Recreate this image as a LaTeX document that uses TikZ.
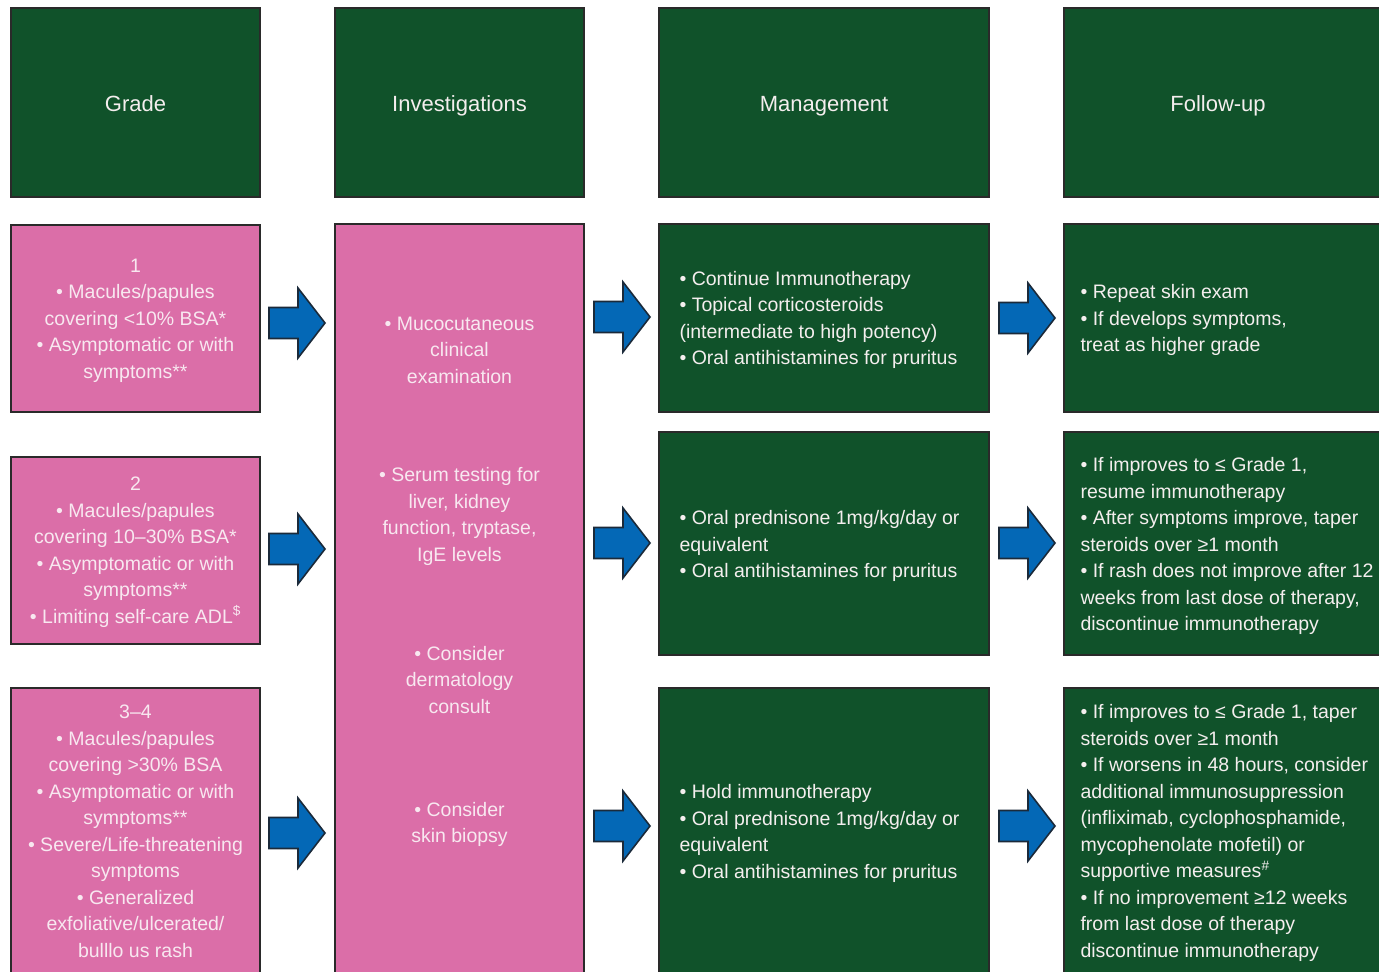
\documentclass[tikz,border=0pt]{standalone}
\usepackage{fontspec}
\setmainfont{Liberation Sans}
\definecolor{hdgreen}{HTML}{10522A}
\definecolor{gpink}{HTML}{DB6EA8}
\definecolor{ablue}{HTML}{0468B6}
\definecolor{aedge}{HTML}{1B2A3A}
\definecolor{bedge}{HTML}{2A2A2A}
\definecolor{txt}{HTML}{F4EEEE}
\definecolor{ptxt}{HTML}{F8E8F0}
\tikzset{
  box/.style={draw=bedge, line width=2.6bp, rectangle, inner sep=0pt},
  greenbox/.style={box, fill=hdgreen},
  pinkbox/.style={box, fill=gpink},
  hdrtext/.style={text=txt, font=\fontsize{22bp}{27bp}\selectfont, text height=17bp, text depth=0bp, inner sep=0pt},
  body/.style={font=\fontsize{19.5bp}{26.5bp}\selectfont},
  ctext/.style={body, align=center, text=ptxt},
  ltext/.style={body, align=left, text=txt, anchor=west},
  barrow/.pic={\draw[fill=ablue, draw=aedge, line width=1.6bp, line join=miter]
     (0,-15.5) -- (29,-15.5) -- (29,-35) -- (56,0) -- (29,35) -- (29,15.5) -- (0,15.5) -- cycle;}
}
\begin{document}
\begin{tikzpicture}[x=1bp,y=-1bp]
\useasboundingbox (0,0) rectangle (1379,971);
\fill[white] (0,0) rectangle (1379,971);
\clip (0,0) rectangle (1379,971);
% headers
\node[greenbox, minimum width=249bp, minimum height=189bp] (hgrade) at (135.5,102.5) {};
\node[greenbox, minimum width=249bp, minimum height=189bp] (hinv) at (459.5,102.5) {};
\node[greenbox, minimum width=330bp, minimum height=189bp] (hman) at (824,102.5) {};
\node[greenbox, minimum width=328bp, minimum height=189bp] (hfol) at (1228,102.5) {};
\node[hdrtext] (hgradet) at (135.5,102.5) {Grade};
\node[hdrtext] (hinvt) at (459.5,102.5) {Investigations};
\node[hdrtext] (hmant) at (824,102.5) {Management};
\node[hdrtext] (hfolt) at (1218,102.5) {Follow-up};
% grade boxes
\node[pinkbox, minimum width=249bp, minimum height=187bp] (g1) at (135.5,318.5) {};
\node[ctext] (g1t) at (135.5,320.5)
 {1\\• Macules/papules\\covering <10\% BSA*\\• Asymptomatic or with\\symptoms**};
\node[pinkbox, minimum width=249bp, minimum height=187bp] (g2) at (135.5,550.5) {};
\node[ctext] (g2t) at (135.5,552)
 {2\\• Macules/papules\\covering 10–30\% BSA*\\• Asymptomatic or with\\symptoms**\\• Limiting self-care ADL\textsuperscript{\$}};
\node[pinkbox, minimum width=249bp, minimum height=287bp] (g3) at (135.5,831.5) {};
\node[ctext] (g3t) at (135.5,831.5)
 {3–4\\• Macules/papules\\covering >30\% BSA\\• Asymptomatic or with\\symptoms**\\• Severe/Life-threatening\\symptoms\\• Generalized\\exfoliative/ulcerated/\\bulllo us rash};
% investigations
\node[pinkbox, minimum width=249bp, minimum height=751bp] (inv) at (459.5,599.5) {};
\node[ctext] (i1) at (459.5,350) {• Mucocutaneous\\clinical\\examination};
\node[ctext] (i2) at (459.5,516.5) {• Serum testing for\\liver, kidney\\function, tryptase,\\IgE levels};
\node[ctext] (i3) at (459.5,680) {• Consider\\dermatology\\consult};
\node[ctext] (i4) at (459.5,824.5) {• Consider\\skin biopsy};
% management
\node[greenbox, minimum width=330bp, minimum height=188bp] (m1) at (824,318) {};
\node[ltext] (m1t) at (676,320) {• Continue Immunotherapy\\• Topical corticosteroids\\(intermediate to high potency)\\• Oral antihistamines for pruritus};
\node[greenbox, minimum width=330bp, minimum height=223bp] (m2) at (824,543.5) {};
\node[ltext] (m2t) at (676,546) {• Oral prednisone 1mg/kg/day or\\equivalent\\• Oral antihistamines for pruritus};
\node[greenbox, minimum width=330bp, minimum height=287bp] (m3) at (824,831.5) {};
\node[ltext] (m3t) at (676,833.5) {• Hold immunotherapy\\• Oral prednisone 1mg/kg/day or\\equivalent\\• Oral antihistamines for pruritus};
% follow-up
\node[greenbox, minimum width=328bp, minimum height=188bp] (f1) at (1228,318) {};
\node[ltext] (f1t) at (1077,320) {• Repeat skin exam\\• If develops symptoms,\\treat as higher grade};
\node[greenbox, minimum width=328bp, minimum height=223bp] (f2) at (1228,543.5) {};
\node[ltext] (f2t) at (1077,546) {• If improves to ≤ Grade 1,\\resume immunotherapy\\• After symptoms improve, taper\\steroids over ≥1 month\\• If rash does not improve after 12\\weeks from last dose of therapy,\\discontinue immunotherapy};
\node[greenbox, minimum width=328bp, minimum height=287bp] (f3) at (1228,831.5) {};
\node[ltext] (f3t) at (1077,833) {• If improves to ≤ Grade 1, taper\\steroids over ≥1 month\\• If worsens in 48 hours, consider\\additional immunosuppression\\(infliximab, cyclophosphamide,\\mycophenolate mofetil) or\\supportive measures\textsuperscript{\#}\\• If no improvement ≥12 weeks\\from last dose of therapy\\discontinue immunotherapy};
% block arrows
\coordinate (a1) at (269,323);  \coordinate (a2) at (269,549);  \coordinate (a3) at (269,833);
\coordinate (b1) at (594,317);  \coordinate (b2) at (594,543);  \coordinate (b3) at (594,826);
\coordinate (c1) at (999,318);  \coordinate (c2) at (999,543);  \coordinate (c3) at (999,826);
\foreach \p in {a1,a2,a3,b1,b2,b3,c1,c2,c3} { \pic at (\p) {barrow}; }
\end{tikzpicture}
\end{document}
